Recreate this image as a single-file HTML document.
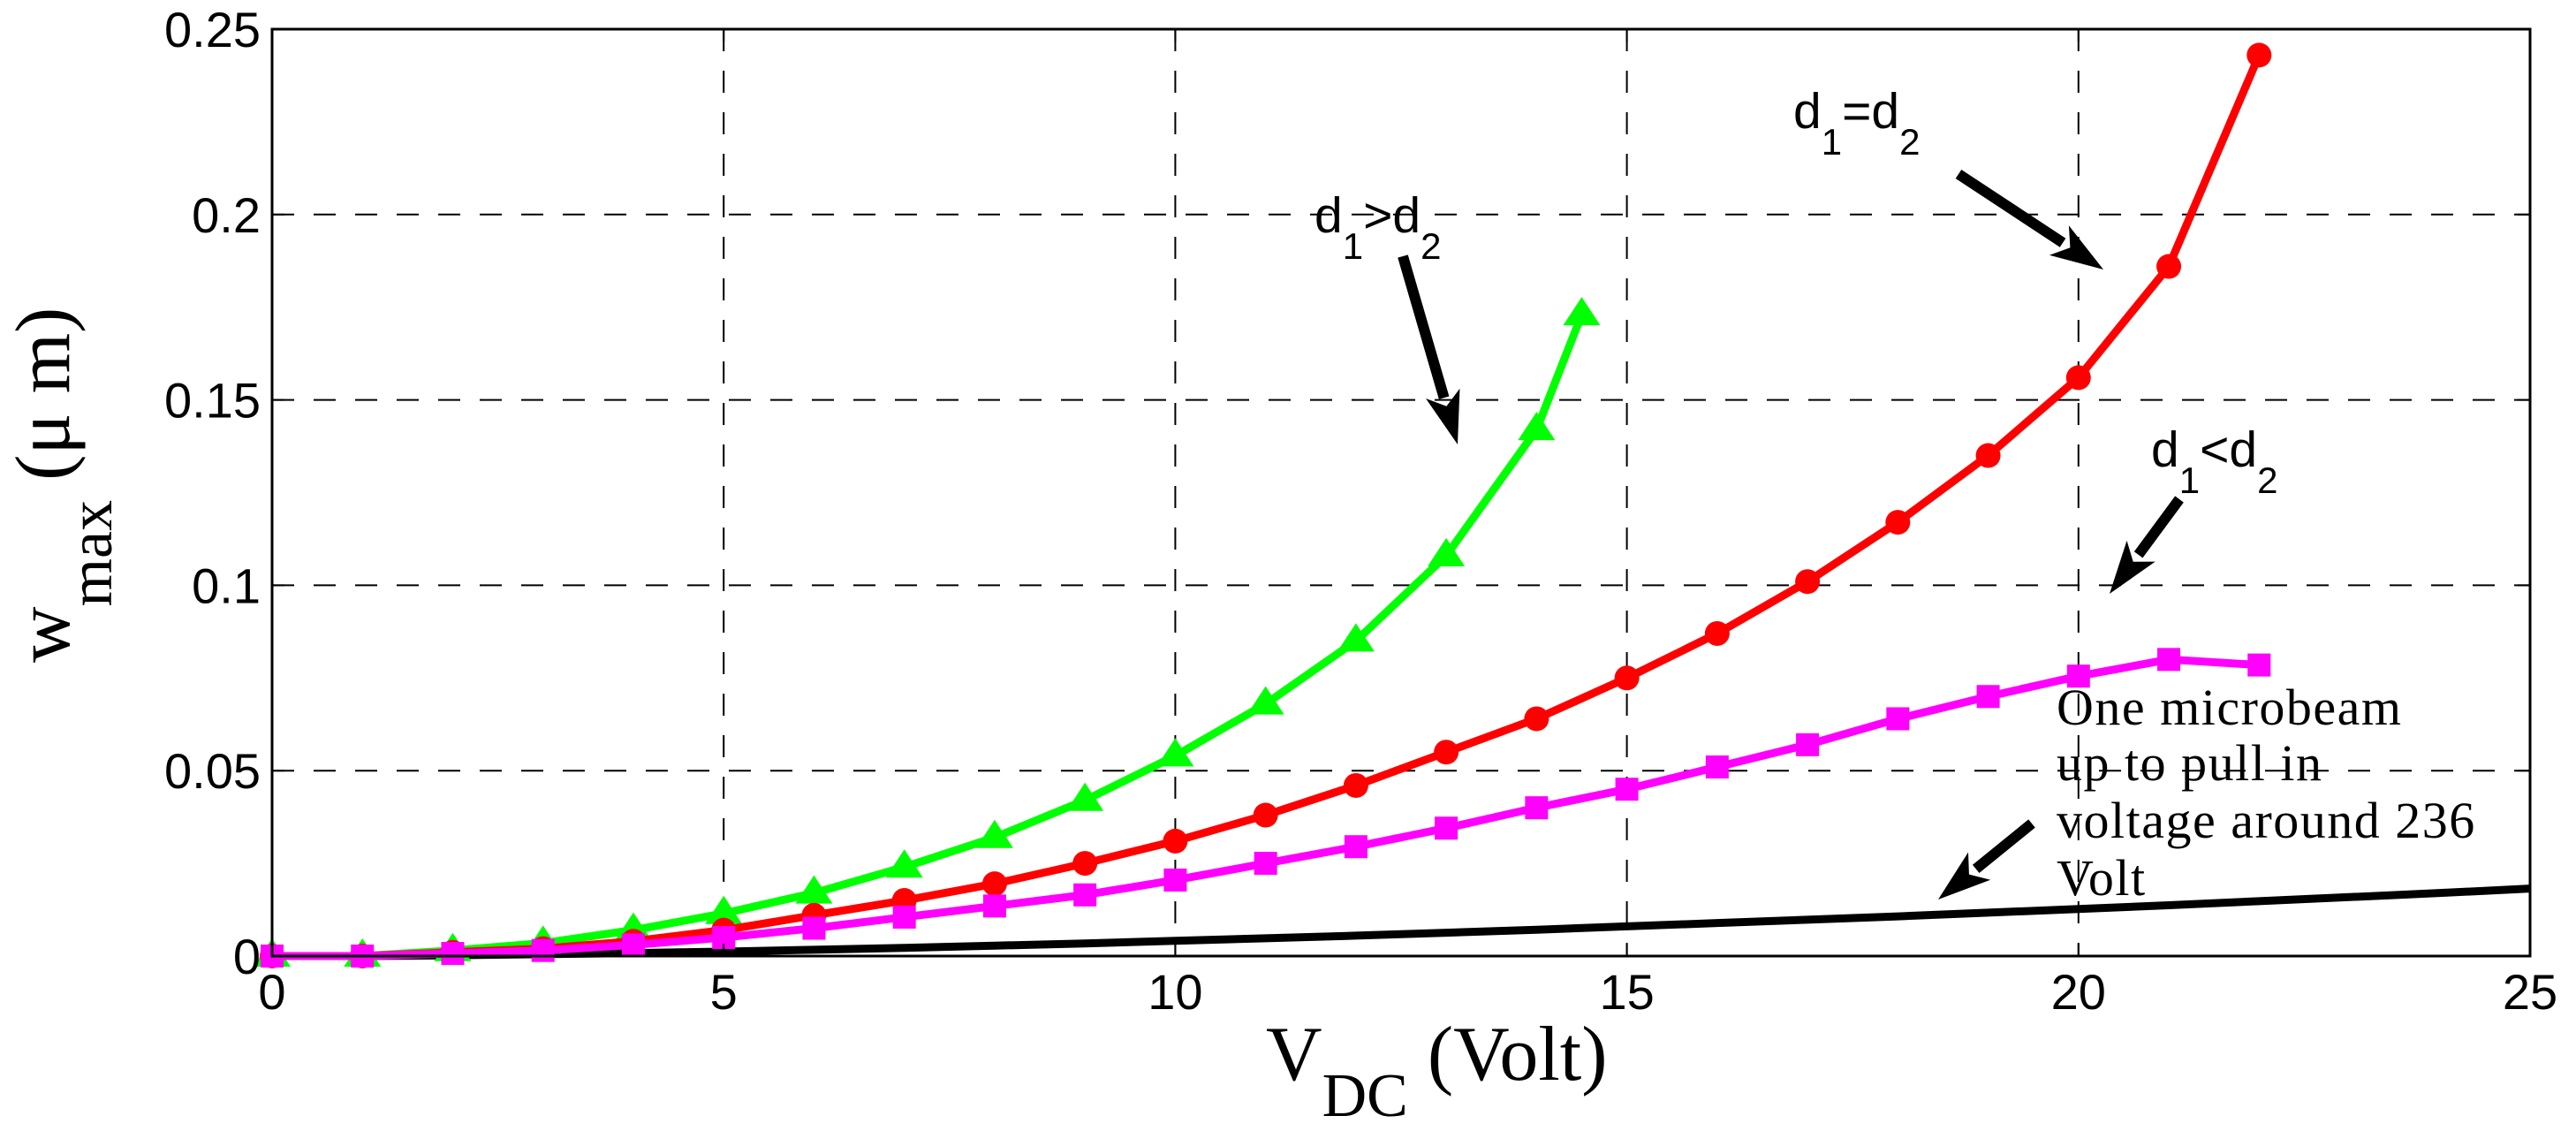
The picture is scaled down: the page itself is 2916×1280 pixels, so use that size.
<!DOCTYPE html>
<html><head><meta charset="utf-8"><style>
html,body{margin:0;padding:0;background:#fff;}
svg{display:block;}
</style></head><body>
<svg id="chart" width="2916" height="1280" viewBox="0 0 2916 1280" xmlns="http://www.w3.org/2000/svg">
<rect x="0" y="0" width="2916" height="1280" fill="#fff"/>
<g id="grid"></g>
<g id="series"></g>
<g id="axes"></g>
<g font-family="'Liberation Sans', Arial, sans-serif" fill="#000">
  <text x="1488" y="263" font-size="57">d<tspan font-size="42" dy="30">1</tspan><tspan dy="-30">&gt;d</tspan><tspan font-size="42" dy="30">2</tspan></text>
  <text x="2030" y="145" font-size="57">d<tspan font-size="42" dy="30">1</tspan><tspan dy="-30">=d</tspan><tspan font-size="42" dy="30">2</tspan></text>
  <text x="2435" y="528" font-size="57">d<tspan font-size="42" dy="30">1</tspan><tspan dy="-30">&lt;d</tspan><tspan font-size="42" dy="30">2</tspan></text>
  <g font-family="'Liberation Serif', 'Times New Roman', serif" font-size="58" letter-spacing="1.5">
    <text x="2328" y="820">One microbeam</text>
    <text x="2328" y="883">up to pull in</text>
    <text x="2328" y="948">voltage around 236</text>
    <text x="2328" y="1013">Volt</text>
  </g>
</g>
<g id="arrows"></g>
<text x="1433" y="1222" font-family="'Liberation Serif', 'Times New Roman', serif" font-size="88">V<tspan font-size="70" dy="41">DC</tspan><tspan dy="-41"> (Volt)</tspan></text>
<text transform="translate(78,750) rotate(-90)" font-family="'Liberation Serif', 'Times New Roman', serif" font-size="88">w<tspan font-size="70" dy="48">max</tspan><tspan dy="-48"> (μ m)</tspan></text>
</svg>
<script>
const xTicks = [0, 5, 10, 15, 20, 25];
const yTicks = [0, 0.05, 0.1, 0.15, 0.2, 0.25];
const yTickLabels = ['0', '0.05', '0.1', '0.15', '0.2', '0.25'];
const greenX = [0,1,2,3,4,5,6,7,8,9,10,11,12,13,14,14.5];
const greenY = [0,0,0.0015,0.0035,0.007,0.0115,0.017,0.024,0.032,0.042,0.054,0.068,0.085,0.108,0.142,0.173];
const redX = [0,1,2,3,4,5,6,7,8,9,10,11,12,13,14,15,16,17,18,19,20,21,22];
const redY = [0,0,0.001,0.002,0.004,0.007,0.011,0.015,0.0195,0.025,0.031,0.038,0.046,0.055,0.064,0.075,0.087,0.101,0.117,0.135,0.156,0.186,0.243];
const magX = [0,1,2,3,4,5,6,7,8,9,10,11,12,13,14,15,16,17,18,19,20,21,22];
const magY = [0,0,0.0007,0.0015,0.003,0.005,0.0075,0.0105,0.0135,0.0165,0.0205,0.025,0.0295,0.0345,0.040,0.045,0.051,0.057,0.064,0.070,0.0755,0.080,0.0785];
const blackX = [0,1,2,3,4,5,6,7,8,9,10,11,12,13,14,15,16,17,18,19,20,21,22,23,24,25];
const blackY = [0,0,0.0002,0.0005,0.0008,0.0012,0.0017,0.0022,0.0028,0.0034,0.0041,0.0048,0.0055,0.0063,0.0071,0.008,0.0089,0.0098,0.0107,0.0117,0.0127,0.0137,0.0148,0.0159,0.017,0.0182];

const L=308, R=2864, T=33, B=1082;
const xs = v => L + (v/25)*(R-L);
const ys = v => B - (v/0.25)*(B-T);
const NS='http://www.w3.org/2000/svg';
function mk(tag, attrs, parent){const e=document.createElementNS(NS,tag);for(const k in attrs)e.setAttribute(k,attrs[k]);parent.appendChild(e);return e;}

const grid=document.getElementById('grid');
xTicks.forEach(t=>{ if(t>0&&t<25){
  const l=mk('line',{x1:xs(t),x2:xs(t),y1:T,y2:B,stroke:'#000','stroke-width':2,'stroke-dasharray':'25 22'},grid);
  
  
}});
yTicks.forEach(t=>{ if(t>0&&t<0.25){
  const l=mk('line',{x1:L,x2:R,y1:ys(t),y2:ys(t),stroke:'#000','stroke-width':2,'stroke-dasharray':'25 22'},grid);
  
  
}});

const axes=document.getElementById('axes');
const box=mk('rect',{x:L,y:T,width:R-L,height:B-T,fill:'none',stroke:'#000','stroke-width':3},axes);


xTicks.forEach(t=>{
  mk('line',{x1:xs(t),x2:xs(t),y1:B,y2:B-14,stroke:'#000','stroke-width':2},axes);
  mk('line',{x1:xs(t),x2:xs(t),y1:T,y2:T+14,stroke:'#000','stroke-width':2},axes);
  const tx=mk('text',{x:xs(t),y:1142,'text-anchor':'middle','font-family':"'Liberation Sans', Arial, sans-serif",'font-size':56},axes);
  tx.textContent=String(t);
  
  
});
yTicks.forEach((t,i)=>{
  mk('line',{x1:L,x2:L+14,y1:ys(t),y2:ys(t),stroke:'#000','stroke-width':2},axes);
  mk('line',{x1:R,x2:R-14,y1:ys(t),y2:ys(t),stroke:'#000','stroke-width':2},axes);
  const tx=mk('text',{x:295,y:ys(t)+20,'text-anchor':'end','font-family':"'Liberation Sans', Arial, sans-serif",'font-size':56},axes);
  tx.textContent=yTickLabels[i];
  
  
});

const S=document.getElementById('series');
function poly(X,Y,color,name){
  const p=mk('polyline',{points:X.map((x,i)=>xs(x)+','+ys(Y[i])).join(' '),fill:'none',stroke:color,'stroke-width':9,'stroke-linejoin':'round'},S);
  
  
}
poly(blackX,blackY,'#000','series-one-microbeam');
poly(greenX,greenY,'#00ff00','series-d1-gt-d2');
greenX.forEach((x,i)=>{const cx=xs(x),cy=ys(greenY[i]);
  const m=mk('polygon',{points:`${cx},${cy-20} ${cx-21},${cy+12} ${cx+21},${cy+12}`,fill:'#00ff00'},S);
  
  
});
poly(redX,redY,'#ff0000','series-d1-eq-d2');
redX.forEach((x,i)=>{
  const m=mk('circle',{cx:xs(x),cy:ys(redY[i]),r:14,fill:'#ff0000'},S);
  
  
});
poly(magX,magY,'#ff00ff','series-d1-lt-d2');
magX.forEach((x,i)=>{
  const m=mk('rect',{x:xs(x)-13,y:ys(magY[i])-13,width:26,height:26,fill:'#ff00ff'},S);
  
  
});

const A=document.getElementById('arrows');
function arrow(x1,y1,x2,y2){
  const dx=x2-x1,dy=y2-y1,len=Math.hypot(dx,dy),ux=dx/len,uy=dy/len,px=-uy,py=ux;
  const hl=60,hw=20;
  const bx=x2-ux*hl,by=y2-uy*hl;
  mk('line',{x1:x1,y1:y1,x2:bx+ux*5,y2:by+uy*5,stroke:'#000','stroke-width':12},A);
  const h=mk('polygon',{points:`${x2},${y2} ${bx+px*hw},${by+py*hw} ${bx+ux*15},${by+uy*15} ${bx-px*hw},${by-py*hw}`,fill:'#000'},A);
  
  
}
arrow(1588,290,1650,503);
arrow(2217,197,2381,305);
arrow(2467,565,2388,672);
arrow(2300,932,2194,1018);
</script>
</body></html>
